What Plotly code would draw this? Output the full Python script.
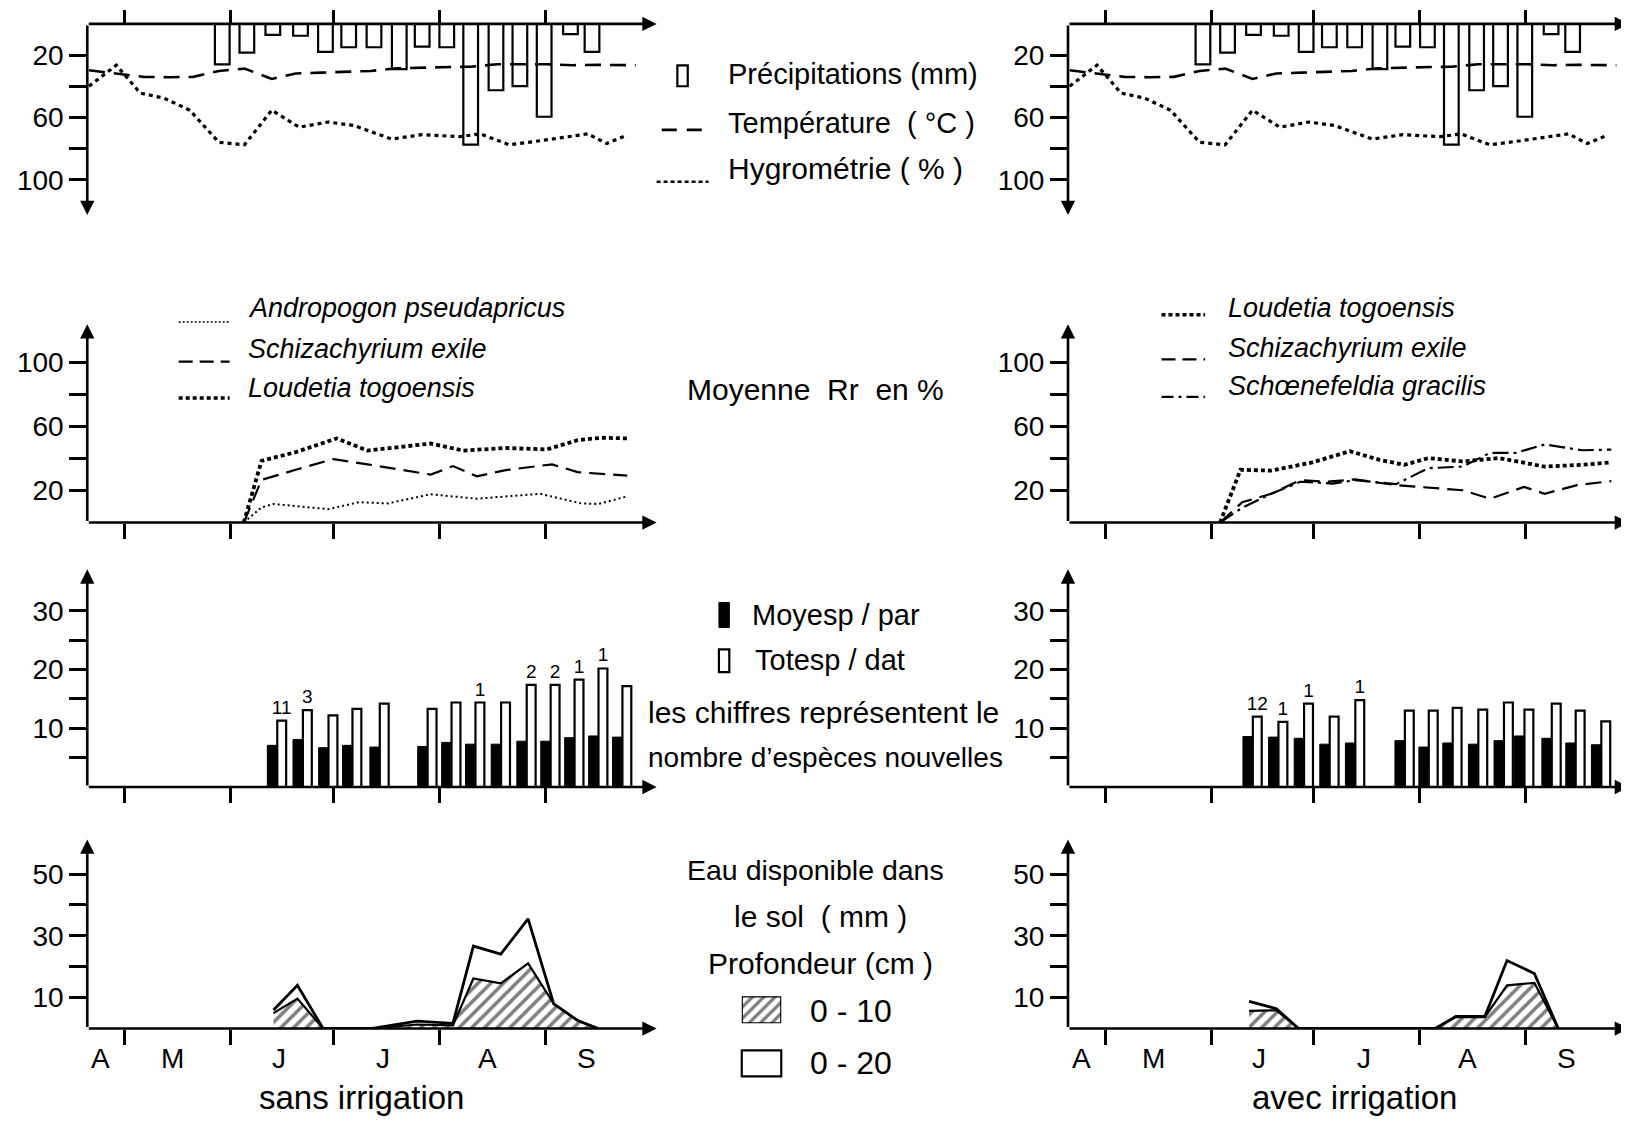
import plotly.graph_objects as go

# x positions are days counted from 1 April
month_edges = [30, 61, 91, 122, 153]
month_mid = [23, 44, 75, 105.5, 136, 165]
month_letters = ["A", "M", "J", "J", "A", "S"]

# climate (same station, used in both columns)
rain_day = [58.5, 65.7, 73.3, 81.4, 88.7, 95.5, 102.9, 110.3, 117.0, 124.2, 131.2, 138.6, 145.6, 152.7, 160.4, 166.7]
rain_mm = [26, 18.5, 7, 7.6, 18, 15, 15, 29, 14.6, 15, 77.5, 42.6, 40, 59.6, 6.5, 18]
temp_day = [19.5, 28, 35.5, 43, 50, 57.5, 65, 73, 80, 87.5, 96, 102, 109.5, 117, 124, 131.5, 139, 146.5, 153.5, 161, 168.5, 179.5]
temp_c = [29.8, 31.8, 34, 34.2, 34, 30.2, 28.7, 35.3, 31.8, 31.3, 30.9, 30.2, 28.5, 28.1, 28.1, 27.4, 25.9, 25.9, 25.9, 26.5, 26.3, 26.5]
hygro_day = [19.5, 27.5, 34.5, 41.5, 49, 57.5, 65, 73, 81, 89.5, 97, 108, 117, 128, 134, 142.5, 151.5, 158.5, 165.5, 171, 177]
hygro_pct = [40, 26.5, 44.4, 47.7, 55.4, 76, 77.6, 55.4, 66.3, 63, 65.2, 73.9, 71.1, 72.4, 70.6, 77.6, 75, 72.8, 70.6, 76.8, 71.3]

# Moyenne Rr en % - sans irrigation
lou_l_day = [64.8, 70, 80, 92, 101, 110.5, 119.5, 129, 141.5, 153.5, 162.5, 169.5, 177]
lou_l = [0, 38.6, 44, 52.6, 45, 47.2, 49.4, 45, 46.6, 45.7, 51.5, 53, 52.6]
sch_l_day = [64.8, 70, 80, 91, 101, 110.5, 119.5, 126, 133, 141.5, 155, 162.5, 169.5, 177]
sch_l = [0, 26.7, 33, 39.7, 36.4, 33, 30, 35.3, 28.9, 32.8, 36.4, 31.5, 30.4, 29.3]
and_l_day = [64.8, 70, 73.5, 89.5, 98.5, 107, 119.5, 133, 151.5, 163.5, 168.5, 177]
and_l = [0, 9.5, 11.6, 8.4, 12.7, 12, 17.7, 14.9, 18, 12, 11.6, 16.4]

# Moyenne Rr en % - avec irrigation
lou_r_day = [63.5, 69.5, 78.5, 90.5, 101.5, 110, 117.5, 124.5, 134.5, 145, 158.5, 169.5, 178]
lou_r = [0, 33, 32.5, 37.6, 44.6, 39.3, 36.1, 40.3, 38.2, 40.3, 35, 36.1, 37.6]
sch_r_day = [63.5, 70, 78.5, 87, 94.5, 103, 115, 127, 134.5, 142.5, 152.5, 158.5, 168, 178]
sch_r = [0, 12.7, 18, 26.5, 25.5, 27, 23.4, 21.2, 20.2, 14.9, 22.3, 18, 23.4, 25.9]
sco_r_day = [63.5, 70, 78.5, 87, 96.5, 103, 115, 124.5, 134.5, 142.5, 150, 158.5, 169.5, 178]
sco_r = [0, 9.3, 18, 25.5, 24.4, 26.5, 24, 34, 35, 43.5, 43.5, 48.8, 45.2, 45.6]

# Moyesp / par, Totesp / dat, nouvelles especes
sp_l_day = [74.5, 82, 89.5, 96.5, 104.5, 118.5, 125.5, 132.5, 140, 147.5, 154.5, 161.5, 168.5, 175.5]
moyesp_l = [7.1, 8.1, 6.7, 7.1, 6.8, 6.9, 7.6, 7.3, 7.3, 7.8, 7.8, 8.4, 8.7, 8.5]
totesp_l = [11.3, 13.1, 12.2, 13.3, 14.2, 13.3, 14.4, 14.4, 14.4, 17.4, 17.4, 18.3, 20.2, 17.2]
new_l = ["11", "3", "", "", "", "", "", "1", "", "2", "2", "1", "1", ""]
sp_r_day = [73, 80.5, 88, 95.5, 103, 117.5, 124.5, 131.5, 139, 146.5, 152.5, 160.5, 167.5, 175]
moyesp_r = [8.6, 8.5, 8.3, 7.3, 7.5, 7.9, 6.8, 7.5, 7.3, 7.9, 8.7, 8.3, 7.5, 7.2]
totesp_r = [12.0, 11.1, 14.2, 12.0, 14.8, 13.0, 13.0, 13.5, 13.2, 14.4, 13.2, 14.2, 13.0, 11.2]
new_r = ["12", "1", "1", "", "1", "", "", "", "", "", "", "", "", ""]

# eau disponible dans le sol (mm)
eau_l_day = [73.5, 80.5, 88, 102, 115.5, 126, 132, 140, 148, 155.5, 162.5, 168.5]
eau20_l = [6, 14, 0, 0, 2.4, 1.7, 26.7, 24.1, 35.5, 8, 2.6, 0]
eau10_l = [5, 9.7, 0, 0, 1.3, 1, 16.2, 14.6, 21.1, 8, 2.6, 0]
eau_r_day = [72, 80, 86.5, 126.5, 132.5, 141, 147.5, 155.5, 162.5]
eau20_r = [8.8, 6.4, 0, 0, 3.9, 3.9, 22, 17.8, 0]
eau10_r = [5.7, 5.9, 0, 0, 3.7, 3.7, 14, 14.8, 0]

FONT = "Liberation Sans, Arial, sans-serif"
BLACK = "black"
TICK_SIZE = 28
TEXT_SIZE = 30


# positions measured on a 1568 px wide copy of the reference; the page adds an 8 px body margin
def px(x):
    return x / 1568 - 8 / 1629


def py(y):
    return 1 - y / 1079 + 8 / 1121


row_px = {1: (23, 207), 2: (312, 503), 3: (548, 757.5), 4: (808, 990)}
col_px = {0: (84, 632), 1: (1028, 1568)}
col_xrange = {0: [19, 185.6], 1: [19, 183.2]}
yranges = {1: [122.7, 0], 2: [0, 124], 3: [0, 37.1], 4: [0, 61.2]}
ytick_vals = {1: [20, 40, 60, 80, 100], 2: [20, 40, 60, 80, 100], 3: [5, 10, 15, 20, 25, 30], 4: [10, 20, 30, 40, 50]}
ytick_text = {1: ["20", "", "60", "", "100"], 2: ["20", "", "60", "", "100"],
              3: ["", "10", "", "20", "", "30"], 4: ["10", "", "30", "", "50"]}

fig = go.Figure()
layout = dict(width=1629, height=1121, margin=dict(l=0, r=0, t=0, b=0),
              paper_bgcolor="white", plot_bgcolor="white", showlegend=False,
              font=dict(family=FONT, size=TEXT_SIZE, color=BLACK))
annotations = []
shapes = []


def ax_id(col, row):
    n = col * 4 + row
    return ("x" if n == 1 else f"x{n}"), ("y" if n == 1 else f"y{n}"), n


def arrow(xr, yr, x0, y0, x1, y1):
    return dict(xref=xr, yref=yr, axref=xr, ayref=yr, x=x1, y=y1, ax=x0, ay=y0, text="",
                showarrow=True, arrowhead=2, arrowsize=1.1, arrowwidth=2.6, arrowcolor=BLACK,
                standoff=0, startstandoff=0)


for col in (0, 1):
    for row in (1, 2, 3, 4):
        xr, yr, n = ax_id(col, row)
        xs = "" if n == 1 else str(n)
        top = row == 1
        layout["xaxis" + xs] = dict(
            domain=[px(col_px[col][0]), min(1, px(col_px[col][1]))], range=col_xrange[col], anchor=yr,
            showgrid=False, zeroline=False, showline=False, tickvals=month_edges,
            ticks="outside", ticklen=13 if top else 15, tickwidth=2.6, tickcolor=BLACK,
            showticklabels=False, side="top" if top else "bottom", fixedrange=True)
        layout["yaxis" + xs] = dict(
            domain=[py(row_px[row][1]), py(row_px[row][0])], range=yranges[row], anchor=xr,
            showgrid=False, zeroline=False, showline=False, tickvals=ytick_vals[row],
            ticktext=ytick_text[row], ticks="outside", ticklen=17, tickwidth=2.6, tickcolor=BLACK,
            tickfont=dict(family=FONT, size=TICK_SIZE, color=BLACK), fixedrange=True)
        x0, x1 = col_xrange[col]
        y0, y1 = yranges[row]
        annotations.append(arrow(xr, yr, x0, 0, x1, 0))
        annotations.append(arrow(xr, yr, x0, 0, x0, y0 if top else y1))

        if row == 1:
            fig.add_trace(go.Bar(x=rain_day, y=rain_mm, width=4.3, xaxis=xr, yaxis=yr,
                                 marker=dict(color="rgba(0,0,0,0)", line=dict(color=BLACK, width=2.2))))
            fig.add_trace(go.Scatter(x=temp_day, y=temp_c, mode="lines", xaxis=xr, yaxis=yr,
                                     line=dict(color=BLACK, width=2.6, dash="16px,9px")))
            fig.add_trace(go.Scatter(x=hygro_day, y=hygro_pct, mode="lines", xaxis=xr, yaxis=yr,
                                     line=dict(color=BLACK, width=3.2, dash="4px,4px")))
        elif row == 2:
            if col == 0:
                series = [(and_l_day, and_l, 2, "2px,3px"), (sch_l_day, sch_l, 2.2, "16px,8px"),
                          (lou_l_day, lou_l, 3.8, "4px,3px")]
            else:
                series = [(sch_r_day, sch_r, 2.2, "16px,8px"), (sco_r_day, sco_r, 2.2, "16px,5px,3px,5px"),
                          (lou_r_day, lou_r, 3.8, "4px,3px")]
            for sx, sy, w, d in series:
                fig.add_trace(go.Scatter(x=sx, y=sy, mode="lines", xaxis=xr, yaxis=yr,
                                         line=dict(color=BLACK, width=w, dash=d)))
        elif row == 3:
            d, m, t, lab = (sp_l_day, moyesp_l, totesp_l, new_l) if col == 0 else (sp_r_day, moyesp_r, totesp_r, new_r)
            fig.add_trace(go.Bar(x=d, y=m, width=2.7, offset=-2.8, xaxis=xr, yaxis=yr,
                                 marker=dict(color=BLACK, line=dict(color=BLACK, width=1))))
            fig.add_trace(go.Bar(x=d, y=t, width=2.6, offset=0.1, xaxis=xr, yaxis=yr,
                                 text=lab, textposition="outside", constraintext="none", cliponaxis=False,
                                 textfont=dict(family=FONT, size=19, color=BLACK),
                                 marker=dict(color="white", line=dict(color=BLACK, width=2.2))))
        else:
            d, e20, e10 = (eau_l_day, eau20_l, eau10_l) if col == 0 else (eau_r_day, eau20_r, eau10_r)
            fig.add_trace(go.Scatter(x=d, y=e10, mode="lines", fill="tozeroy", xaxis=xr, yaxis=yr,
                                     fillpattern=dict(shape="/", fgcolor=BLACK, bgcolor="white",
                                                      size=9, solidity=0.4),
                                     line=dict(color=BLACK, width=2.2)))
            fig.add_trace(go.Scatter(x=d, y=e20, mode="lines", xaxis=xr, yaxis=yr,
                                     line=dict(color=BLACK, width=2.8)))
            for lx, lt in zip(month_mid, month_letters):
                annotations.append(dict(xref=xr, yref="paper", x=lx, y=py(1019), text=lt,
                                        xanchor="center", yanchor="middle", showarrow=False,
                                        font=dict(family=FONT, size=TICK_SIZE, color=BLACK)))

layout["barmode"] = "overlay"

# hatched legend swatch (0 - 10)
layout["xaxis9"] = dict(domain=[px(714), px(752)], range=[0, 1], visible=False, fixedrange=True)
layout["yaxis9"] = dict(domain=[py(985), py(959)], range=[0, 1], visible=False, fixedrange=True)
fig.add_trace(go.Scatter(x=[0, 1, 1, 0, 0], y=[0, 0, 1, 1, 0], mode="lines", fill="toself",
                         xaxis="x9", yaxis="y9", line=dict(color=BLACK, width=2.2),
                         fillpattern=dict(shape="/", fgcolor=BLACK, bgcolor="white", size=8, solidity=0.4)))


def rect(x0, y0, x1, y1, fill="white", w=2.2):
    shapes.append(dict(type="rect", xref="paper", yref="paper", x0=px(x0), x1=px(x1), y0=py(y1), y1=py(y0),
                       fillcolor=fill, line=dict(color=BLACK, width=w)))


def legline(x0, x1, y, w, dash):
    shapes.append(dict(type="line", xref="paper", yref="paper", x0=px(x0), x1=px(x1), y0=py(y), y1=py(y),
                       line=dict(color=BLACK, width=w, dash=dash)))


rect(652, 63, 662, 83)
legline(637, 676, 125, 2.6, "15px,10px")
legline(632, 682, 175, 2.6, "4px,3px")
legline(172, 221, 310, 1.6, "2px,2px")
legline(172, 221, 348, 2.2, "14px,7px")
legline(172, 221, 383, 3.5, "4px,3px")
legline(1118, 1160, 303, 3.5, "4px,3px")
legline(1118, 1160, 346, 2.2, "14px,7px")
legline(1118, 1160, 382, 2.2, "12px,5px,3px,5px")
rect(692, 580, 702, 604, fill=BLACK, w=1)
rect(692, 625, 702, 647)
rect(714, 1011, 752, 1036)


def label(text, x, y, anchor="left", size=TEXT_SIZE, italic=False):
    t = f"<i>{text}</i>" if italic else text
    annotations.append(dict(xref="paper", yref="paper", x=px(x), y=py(y), text=t, showarrow=False,
                            xanchor=anchor, yanchor="middle", font=dict(family=FONT, size=size, color=BLACK)))


label("Précipitations (mm)", 699, 71, size=29)
label("Température\u00a0 (\u00a0°C\u00a0)", 699, 118, size=29)
label("Hygrométrie ( % )", 699, 162)
label("Moyenne\u00a0\u00a0Rr\u00a0\u00a0en %", 785, 375, "center")
label("Moyesp / par", 722, 592, size=29)
label("Totesp / dat", 725, 635, size=29)
label("les chiffres représentent le", 622, 686)
label("nombre d’espèces nouvelles", 622, 729, size=28)
label("Eau disponible dans", 785, 837, "center", 28.5)
label("le sol\u00a0 ( mm )", 790, 882, "center")
label("Profondeur (cm )", 790, 927, "center")
label("0 - 10", 778, 973, size=32)
label("0 - 20", 778, 1023, size=32)
label("sans irrigation", 348, 1056, "center", 33)
label("avec irrigation", 1304, 1056, "center", 33)
label("Andropogon pseudapricus", 237, 296, size=27, italic=True)
label("Schizachyrium exile", 237, 336, size=27, italic=True)
label("Loudetia togoensis", 237, 373, size=27, italic=True)
label("Loudetia togoensis", 1180, 296, size=27, italic=True)
label("Schizachyrium exile", 1180, 335, size=27, italic=True)
label("Schœnefeldia gracilis", 1180, 372, size=27, italic=True)

layout["annotations"] = annotations
layout["shapes"] = shapes
fig.update_layout(**layout)

fig.write_html("out.html")
